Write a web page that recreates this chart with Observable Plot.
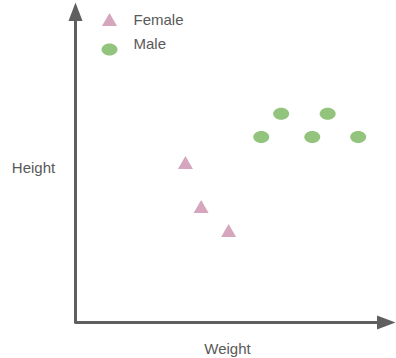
<!DOCTYPE html>
<html>
<head>
<meta charset="utf-8">
<script src="https://cdn.jsdelivr.net/npm/d3@7"></script>
<script src="https://cdn.jsdelivr.net/npm/@observablehq/plot@0.6"></script>
<style>
  body { margin: 0; background: #fff; }
  svg { display: block; }
</style>
</head>
<body>
<div id="chart"></div>
<script>
// Data (arbitrary units)
const femaleWeight = [36.4, 41.6, 50.7];
const femaleHeight = [53.0, 38.4, 30.5];
const maleWeight = [68.1, 83.5, 61.5, 78.4, 93.6];
const maleHeight = [69.1, 69.1, 61.4, 61.4, 61.4];
const seriesNames = ["Female", "Male"];
const axisLabels = { x: "Weight", y: "Height" };
const axisExtent = [0, 100];

const female = femaleWeight.map((w, i) => ({ weight: w, height: femaleHeight[i] }));
const male = maleWeight.map((w, i) => ({ weight: w, height: maleHeight[i] }));

const pink = "#d5a6bd";
const green = "#93c47d";
const ink = "#5f5f5f";
const textInk = "#595959";

// custom symbols
const triangle = {
  draw(ctx) {
    ctx.moveTo(0, -6.5);
    ctx.lineTo(7.5, 6.5);
    ctx.lineTo(-7.5, 6.5);
    ctx.closePath();
  }
};
const ellipse = {
  draw(ctx) {
    const rx = 8, ry = 6, k = 0.5523;
    ctx.moveTo(rx, 0);
    ctx.bezierCurveTo(rx, ry * k, rx * k, ry, 0, ry);
    ctx.bezierCurveTo(-rx * k, ry, -rx, ry * k, -rx, 0);
    ctx.bezierCurveTo(-rx, -ry * k, -rx * k, -ry, 0, -ry);
    ctx.bezierCurveTo(rx * k, -ry, rx, -ry * k, rx, 0);
    ctx.closePath();
  }
};
const arrowUp = {
  draw(ctx) {
    ctx.moveTo(-7, 0.5);
    ctx.lineTo(7, 0.5);
    ctx.lineTo(0, -18);
    ctx.closePath();
  }
};
const arrowRight = {
  draw(ctx) {
    ctx.moveTo(-0.5, -7);
    ctx.lineTo(-0.5, 7);
    ctx.lineTo(18, 0);
    ctx.closePath();
  }
};

const [lo, hi] = axisExtent;
const axisPath = [
  { weight: lo, height: hi },
  { weight: lo, height: lo },
  { weight: hi, height: lo }
];

const font = "Arial, 'Liberation Sans', sans-serif";

const plot = Plot.plot({
  width: 396,
  height: 358,
  marginLeft: 75,
  marginRight: 19,
  marginTop: 20,
  marginBottom: 36,
  style: { fontFamily: font, background: "#fff" },
  x: { domain: axisExtent, axis: null },
  y: { domain: axisExtent, axis: null },
  marks: [
    Plot.line(axisPath, { x: "weight", y: "height", stroke: ink, strokeWidth: 3, strokeLinejoin: "round", strokeLinecap: "butt" }),
    Plot.dot([{ weight: lo, height: hi }], { x: "weight", y: "height", symbol: arrowUp, fill: ink, stroke: "none" }),
    Plot.dot([{ weight: hi, height: lo }], { x: "weight", y: "height", symbol: arrowRight, fill: ink, stroke: "none" }),
    Plot.dot(female, { x: "weight", y: "height", symbol: triangle, fill: pink, stroke: "none" }),
    Plot.dot(male, { x: "weight", y: "height", symbol: ellipse, fill: green, stroke: "none" }),
    // legend
    Plot.dot([seriesNames[0]], { frameAnchor: "top-left", dx: 34, dy: -1, symbol: triangle, fill: pink, stroke: "none" }),
    Plot.dot([seriesNames[1]], { frameAnchor: "top-left", dx: 34, dy: 29, symbol: ellipse, fill: green, stroke: "none" }),
    Plot.text([seriesNames[0]], { text: d => d, frameAnchor: "top-left", lineAnchor: "middle", dx: 58, dy: 0, textAnchor: "start", fontSize: 15, fill: textInk }),
    Plot.text([seriesNames[1]], { text: d => d, frameAnchor: "top-left", lineAnchor: "middle", dx: 58, dy: 24, textAnchor: "start", fontSize: 15, fill: textInk }),
    // axis labels
    Plot.text([axisLabels.y], { text: d => d, frameAnchor: "left", lineAnchor: "middle", dx: -42, dy: -3, textAnchor: "middle", fontSize: 15, fill: textInk }),
    Plot.text([axisLabels.x], { text: d => d, frameAnchor: "bottom", lineAnchor: "middle", dx: 1, dy: 27, textAnchor: "middle", fontSize: 15, fill: textInk })
  ]
});
document.getElementById("chart").appendChild(plot);
</script>
</body>
</html>
